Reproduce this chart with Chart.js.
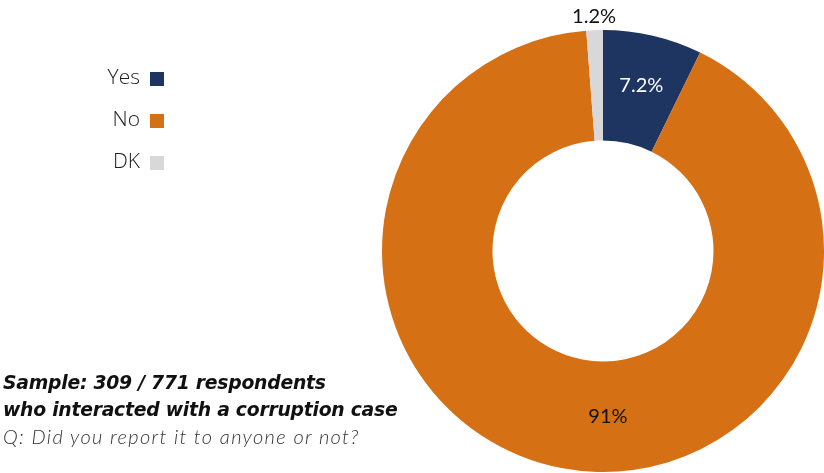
<!DOCTYPE html>
<html>
<head>
<meta charset="utf-8">
<script src="https://cdn.jsdelivr.net/npm/chart.js@4/dist/chart.umd.min.js"></script>
<style>
  html, body { margin: 0; padding: 0; background: #fff; }
  #wrap { position: relative; width: 824px; height: 473px; overflow: hidden; }
  #myChart { position: absolute; left: 0; top: 0; }
  .legend { position: absolute; left: 0; top: 0; font-family: "Open Sans", sans-serif; font-weight: 300; font-size: 21px; color: #222; }
  .legend div { position: absolute; white-space: nowrap; }
  .legend span.box { position: absolute; width: 14px; height: 14px; }
  .note { position: absolute; left: 3px; top: 369px; font-style: italic; line-height: 27px; color: #111; white-space: nowrap; }
  .note .b { font-family: "DejaVu Sans", sans-serif; font-weight: 700; font-size: 18.8px; letter-spacing: -0.25px; }
  .note .q { font-family: Lato, sans-serif; font-weight: 300; font-size: 20px; letter-spacing: 1.35px; color: #333; }
</style>
</head>
<body>
<div id="wrap">
  <canvas id="myChart" width="824" height="473"></canvas>
  <div class="legend" id="legend"></div>
  <div class="note">
    <div class="b">Sample: 309 / 771 respondents</div>
    <div class="b">who interacted with a corruption case</div>
    <div class="q">Q: Did you report it to anyone or not?</div>
  </div>
</div>
<script>
const categories = ["Yes", "No", "DK"];
const values = [7.2, 91, 1.2];
const valueLabels = ["7.2%", "91%", "1.2%"];
const colors = ["#1f3561", "#d57015", "#d8d8d8"];
const labelColors = ["#ffffff", "#111111", "#111111"];

// legend (text left, swatch right)
const legend = document.getElementById("legend");
categories.forEach((name, i) => {
    const y = 62 + i * 42;
    const row = document.createElement("div");
    row.style.top = y + "px";
    row.style.left = "0px";
    row.style.width = "140px";
    row.style.textAlign = "right";
    row.textContent = name;
    legend.appendChild(row);
    const box = document.createElement("span");
    box.className = "box";
    box.style.left = "150px";
    box.style.top = (y + 10) + "px";
    box.style.background = colors[i];
    legend.appendChild(box);
});

const sliceLabels = {
    id: "sliceLabels",
    afterDatasetsDraw(chart) {
        const ctx = chart.ctx;
        const meta = chart.getDatasetMeta(0);
        ctx.save();
        ctx.font = "20px Lato, sans-serif";
        ctx.textAlign = "center";
        ctx.textBaseline = "middle";
        meta.data.forEach((arc, i) => {
            let mid = (arc.startAngle + arc.endAngle) / 2;
            let r = (arc.innerRadius + arc.outerRadius) / 2;
            if (i === 0) r += 4;
            if (i === 1) mid = Math.PI / 2 - 0.03; // big slice: label straight below
            if (i === 2) r = arc.outerRadius + 14; // tiny slice: label outside
            const x = arc.x + Math.cos(mid) * r;
            const y = arc.y + Math.sin(mid) * r;
            ctx.fillStyle = labelColors[i];
            ctx.fillText(valueLabels[i], x, y);
        });
        ctx.restore();
    }
};

const ctx = document.getElementById("myChart").getContext("2d");
const myChart = new Chart(ctx, {
    type: "doughnut",
    data: {
        labels: categories,
        datasets: [
            {
                data: values,
                backgroundColor: colors,
                borderWidth: 0,
            },
        ],
    },
    options: {
        responsive: false,
        animation: false,
        cutout: "50%",
        plugins: {
            legend: { display: false },
            tooltip: { enabled: false },
        },
        layout: {
            padding: {
                top: 30,
                right: 0,
                bottom: 1,
                left: 382,
            },
        },
    },
    plugins: [sliceLabels],
});
</script>
</body>
</html>
